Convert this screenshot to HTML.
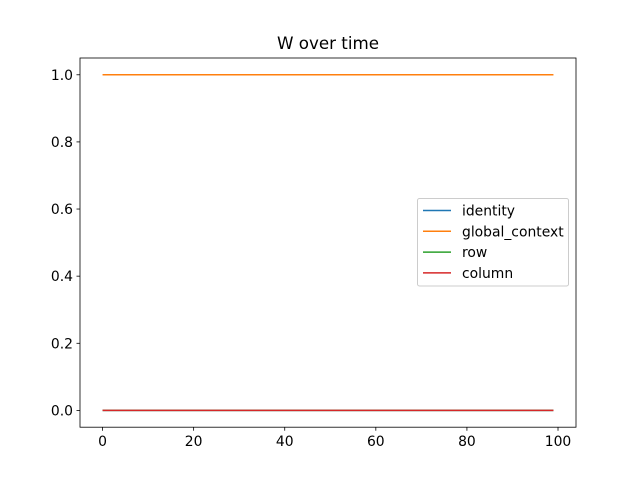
<!DOCTYPE html>
<html><head><meta charset="utf-8"><style>
body{margin:0;background:#fff;font-family:"DejaVu Sans","Liberation Sans",sans-serif}
</style></head><body>
<svg id="chart" width="640" height="480" xmlns="http://www.w3.org/2000/svg" font-family="DejaVu Sans, Liberation Sans, sans-serif">
<rect width="640" height="480" fill="#fff"/>
<text x="328" y="49" text-anchor="middle" font-size="16.7" fill="#000">W over time</text>
<g id="plot"></g>
</svg>
<script>
const seriesNames=["identity","global_context","row","column"];
const seriesColors=["#1f77b4","#ff7f0e","#2ca02c","#d62728"];
const seriesLevels=[0,1,0,0];
const nPoints=100;
const xTicks=[0,20,40,60,80,100];
const yTicks=[0.0,0.2,0.4,0.6,0.8,1.0];
const yTickLabels=["0.0","0.2","0.4","0.6","0.8","1.0"];

const L=80,R=576,T=58,B=427.2;
const xmin=-4.95,xmax=103.95,ymin=-0.05,ymax=1.05;
const X=v=>L+(v-xmin)/(xmax-xmin)*(R-L);
const Y=v=>B-(v-ymin)/(ymax-ymin)*(B-T);
const NS="http://www.w3.org/2000/svg";
const g=document.getElementById('plot');
function mk(t,a){const e=document.createElementNS(NS,t);for(const k in a)e.setAttribute(k,a[k]);g.appendChild(e);return e;}

seriesNames.forEach((n,i)=>{
  let d="";
  for(let k=0;k<nPoints;k++){d+=(k?"L":"M")+X(k).toFixed(2)+","+Y(seriesLevels[i]).toFixed(2);}
  const p=mk('path',{d:d,stroke:seriesColors[i],'stroke-width':1.5,fill:'none'});
  
  
});

const frame=mk('rect',{x:L,y:T,width:R-L,height:B-T,fill:'none',stroke:'#000','stroke-width':0.8});



xTicks.forEach(v=>{
  mk('line',{x1:X(v),x2:X(v),y1:B,y2:B+3.5,stroke:'#000','stroke-width':0.8});
  const t=mk('text',{x:X(v),y:B+19,'text-anchor':'middle','font-size':13.9,fill:'#000'});
  t.textContent=v;
  
  
});
yTicks.forEach((v,i)=>{
  mk('line',{x1:L-3.5,x2:L,y1:Y(v),y2:Y(v),stroke:'#000','stroke-width':0.8});
  const t=mk('text',{x:L-7,y:Y(v)+5,'text-anchor':'end','font-size':13.9,fill:'#000'});
  t.textContent=yTickLabels[i];
  
  
});

const lg=mk('rect',{x:417.5,y:198.5,width:151,height:87.5,rx:2,fill:'#fff','fill-opacity':0.8,stroke:'#ccc','stroke-width':1});


seriesNames.forEach((n,i)=>{
  const y=210.5+i*20.8;
  mk('line',{x1:423,x2:451,y1:y,y2:y,stroke:seriesColors[i],'stroke-width':1.5});
  const t=mk('text',{x:462,y:y+5,'font-size':13.9,fill:'#000'});
  t.textContent=n;
  
  
});
</script>
</body></html>
